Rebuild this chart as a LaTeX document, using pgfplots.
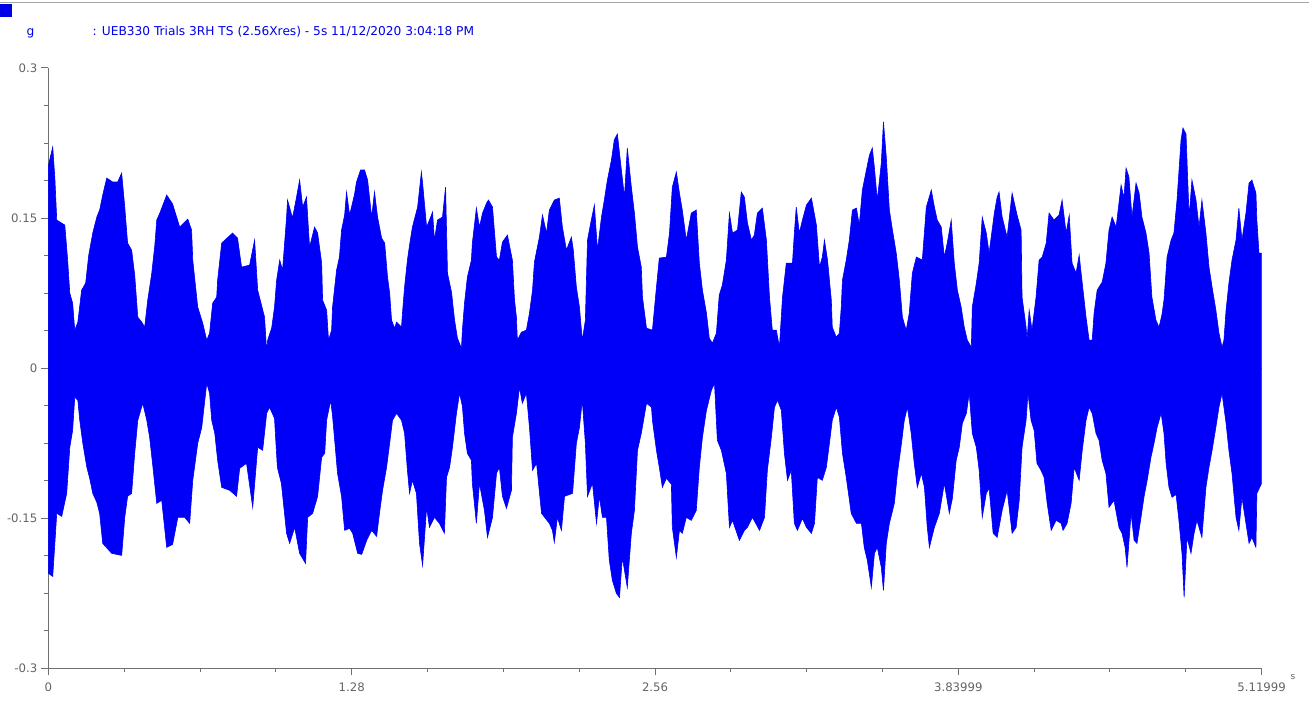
\documentclass[border=0pt]{standalone}
\usepackage{fontspec}
\setmainfont{DejaVu Sans}
\usepackage{pgfplots}
\pgfplotsset{compat=1.18}
\definecolor{sig}{RGB}{0,0,248}
\definecolor{ttl}{RGB}{0,0,230}
\definecolor{axgray}{RGB}{112,112,112}
\definecolor{lblgray}{RGB}{100,100,100}
\begin{document}
\begin{tikzpicture}
\begin{axis}[
  at={(0,0)}, anchor=south west,
  scale only axis, width=1214bp, height=601bp,
  xmin=0, xmax=5.11999, ymin=-0.3, ymax=0.3,
  axis x line*=bottom, axis y line*=left,
  xtick={0,1.28,2.56,3.83999,5.11999},
  xticklabels={0,1.28,2.56,3.83999,5.11999},
  minor xtick={0.32,0.64,0.96,1.6,1.92,2.24,2.88,3.2,3.52,4.16,4.48,4.8},
  ytick={-0.3,-0.15,0,0.15,0.3},
  yticklabels={-0.3,-0.15,0,0.15,0.3},
  minor ytick={-0.2625,-0.225,-0.1875,-0.1125,-0.075,-0.0375,0.0375,0.075,0.1125,0.1875,0.225,0.2625},
  tick align=outside,
  major tick length=7bp, minor tick length=4bp,
  tick style={axgray, line width=1bp},
  axis line style={axgray, line width=1bp},
  ticklabel style={font=\fontsize{11.7bp}{14bp}\selectfont, text=lblgray, inner sep=0pt},
  xticklabel style={anchor=north}, xticklabel shift=7bp,
  yticklabel style={anchor=east}, yticklabel shift=4bp,
]
\addplot[fill=sig, draw=sig, line width=0.6bp] coordinates {
(0,0.203)(0.018,0.221)(0.027,0.19)(0.035,0.148)(0.069,0.143)(0.081,0.108)(0.090,0.075)(0.102,0.065)(0.111,0.038)(0.124,0.046)(0.140,0.078)(0.157,0.085)(0.170,0.113)(0.187,0.135)(0.204,0.151)(0.216,0.158)(0.229,0.173)(0.246,0.19)(0.271,0.186)(0.292,0.186)(0.309,0.195)(0.322,0.161)(0.334,0.125)(0.351,0.118)(0.364,0.093)(0.377,0.051)(0.394,0.046)(0.406,0.041)(0.419,0.068)(0.436,0.095)(0.449,0.123)(0.457,0.148)(0.470,0.155)(0.499,0.173)(0.524,0.164)(0.554,0.141)(0.588,0.149)(0.604,0.138)(0.609,0.108)(0.630,0.061)(0.651,0.045)(0.668,0.028)(0.680,0.035)(0.693,0.065)(0.710,0.071)(0.714,0.088)(0.731,0.125)(0.777,0.135)(0.798,0.130)(0.815,0.101)(0.849,0.103)(0.870,0.128)(0.883,0.078)(0.912,0.051)(0.921,0.016)(0.925,0.028)(0.942,0.040)(0.954,0.061)(0.963,0.088)(0.976,0.108)(0.988,0.098)(1.005,0.151)(1.009,0.168)(1.030,0.150)(1.047,0.171)(1.060,0.188)(1.073,0.161)(1.089,0.171)(1.102,0.121)(1.123,0.141)(1.136,0.135)(1.153,0.105)(1.157,0.068)(1.174,0.058)(1.182,0.028)(1.195,0.038)(1.199,0.061)(1.216,0.098)(1.228,0.111)(1.237,0.138)(1.250,0.153)(1.258,0.176)(1.271,0.153)(1.292,0.174)(1.300,0.186)(1.317,0.198)(1.334,0.198)(1.347,0.188)(1.364,0.151)(1.376,0.176)(1.389,0.151)(1.406,0.130)(1.419,0.125)(1.431,0.091)(1.440,0.075)(1.448,0.048)(1.461,0.040)(1.469,0.046)(1.490,0.041)(1.494,0.055)(1.503,0.081)(1.515,0.108)(1.524,0.123)(1.536,0.141)(1.558,0.161)(1.574,0.196)(1.579,0.185)(1.596,0.141)(1.608,0.148)(1.621,0.156)(1.629,0.128)(1.642,0.148)(1.663,0.151)(1.676,0.181)(1.684,0.095)(1.701,0.076)(1.714,0.048)(1.726,0.030)(1.743,0.020)(1.747,0.038)(1.756,0.065)(1.768,0.091)(1.785,0.108)(1.789,0.125)(1.806,0.160)(1.819,0.141)(1.832,0.155)(1.849,0.165)(1.857,0.168)(1.874,0.161)(1.891,0.111)(1.903,0.108)(1.916,0.126)(1.937,0.133)(1.958,0.108)(1.967,0.068)(1.975,0.051)(1.979,0.028)(1.996,0.036)(2.017,0.038)(2.030,0.055)(2.043,0.078)(2.051,0.106)(2.072,0.131)(2.085,0.153)(2.102,0.135)(2.114,0.158)(2.135,0.168)(2.156,0.170)(2.169,0.141)(2.186,0.118)(2.207,0.131)(2.215,0.118)(2.228,0.081)(2.241,0.061)(2.253,0.028)(2.266,0.048)(2.275,0.128)(2.291,0.148)(2.304,0.163)(2.317,0.118)(2.334,0.151)(2.346,0.168)(2.359,0.188)(2.376,0.208)(2.388,0.228)(2.401,0.234)(2.418,0.198)(2.431,0.171)(2.443,0.220)(2.460,0.181)(2.473,0.155)(2.486,0.121)(2.502,0.101)(2.507,0.071)(2.524,0.040)(2.549,0.038)(2.566,0.081)(2.578,0.110)(2.608,0.111)(2.621,0.135)(2.633,0.181)(2.650,0.196)(2.663,0.175)(2.675,0.158)(2.692,0.128)(2.713,0.155)(2.734,0.158)(2.747,0.105)(2.760,0.078)(2.777,0.055)(2.789,0.030)(2.802,0.025)(2.819,0.035)(2.831,0.073)(2.844,0.083)(2.861,0.108)(2.874,0.155)(2.887,0.135)(2.908,0.138)(2.924,0.176)(2.937,0.171)(2.950,0.145)(2.967,0.128)(2.979,0.133)(2.992,0.155)(3.013,0.160)(3.030,0.128)(3.043,0.071)(3.055,0.038)(3.072,0.038)(3.085,0.021)(3.098,0.071)(3.114,0.105)(3.140,0.105)(3.148,0.135)(3.156,0.161)(3.169,0.135)(3.182,0.148)(3.199,0.163)(3.220,0.170)(3.241,0.143)(3.254,0.101)(3.266,0.111)(3.275,0.128)(3.288,0.108)(3.304,0.068)(3.308,0.041)(3.325,0.031)(3.338,0.035)(3.346,0.061)(3.351,0.088)(3.367,0.108)(3.380,0.128)(3.393,0.158)(3.410,0.160)(3.422,0.143)(3.435,0.178)(3.452,0.198)(3.465,0.213)(3.477,0.220)(3.486,0.200)(3.498,0.168)(3.515,0.205)(3.524,0.246)(3.536,0.211)(3.549,0.158)(3.562,0.138)(3.578,0.115)(3.591,0.088)(3.604,0.051)(3.620,0.038)(3.633,0.055)(3.646,0.095)(3.663,0.111)(3.688,0.108)(3.705,0.161)(3.726,0.178)(3.739,0.161)(3.751,0.148)(3.768,0.141)(3.781,0.111)(3.794,0.126)(3.810,0.148)(3.823,0.105)(3.836,0.078)(3.852,0.061)(3.865,0.041)(3.878,0.028)(3.895,0.021)(3.899,0.061)(3.916,0.085)(3.928,0.105)(3.941,0.151)(3.958,0.135)(3.970,0.115)(3.992,0.155)(4.004,0.171)(4.012,0.176)(4.025,0.151)(4.046,0.131)(4.067,0.175)(4.088,0.153)(4.105,0.138)(4.109,0.071)(4.126,0.041)(4.130,0.028)(4.139,0.058)(4.151,0.038)(4.168,0.071)(4.181,0.108)(4.194,0.111)(4.211,0.125)(4.223,0.155)(4.244,0.148)(4.265,0.153)(4.278,0.168)(4.295,0.135)(4.308,0.153)(4.320,0.105)(4.337,0.095)(4.350,0.113)(4.363,0.085)(4.379,0.051)(4.392,0.028)(4.405,0.028)(4.413,0.055)(4.426,0.078)(4.447,0.086)(4.463,0.105)(4.476,0.138)(4.489,0.151)(4.506,0.141)(4.518,0.165)(4.527,0.183)(4.539,0.170)(4.548,0.200)(4.560,0.191)(4.573,0.151)(4.590,0.185)(4.603,0.175)(4.615,0.151)(4.632,0.135)(4.645,0.115)(4.657,0.071)(4.674,0.048)(4.687,0.041)(4.699,0.053)(4.708,0.068)(4.721,0.111)(4.738,0.128)(4.750,0.135)(4.763,0.168)(4.780,0.228)(4.788,0.240)(4.801,0.234)(4.814,0.151)(4.826,0.188)(4.843,0.168)(4.856,0.141)(4.868,0.168)(4.885,0.135)(4.898,0.101)(4.911,0.081)(4.927,0.058)(4.940,0.035)(4.953,0.021)(4.961,0.028)(4.970,0.058)(4.982,0.085)(4.995,0.108)(5.012,0.128)(5.024,0.160)(5.037,0.128)(5.054,0.155)(5.067,0.185)(5.079,0.188)(5.096,0.175)(5.100,0.148)(5.109,0.115)(5.11999,0.115)
} \closedcycle;
\addplot[fill=sig, draw=sig, line width=0.6bp] coordinates {
(0,-0.205)(0.018,-0.208)(0.027,-0.175)(0.035,-0.145)(0.056,-0.148)(0.077,-0.125)(0.090,-0.079)(0.102,-0.062)(0.111,-0.029)(0.124,-0.032)(0.132,-0.052)(0.145,-0.075)(0.162,-0.099)(0.174,-0.110)(0.187,-0.125)(0.204,-0.134)(0.216,-0.145)(0.229,-0.175)(0.267,-0.185)(0.309,-0.187)(0.322,-0.149)(0.334,-0.128)(0.351,-0.125)(0.364,-0.085)(0.377,-0.052)(0.398,-0.035)(0.415,-0.052)(0.427,-0.069)(0.441,-0.099)(0.457,-0.135)(0.478,-0.132)(0.499,-0.179)(0.524,-0.176)(0.546,-0.149)(0.575,-0.149)(0.596,-0.155)(0.609,-0.112)(0.630,-0.075)(0.647,-0.059)(0.668,-0.015)(0.680,-0.025)(0.689,-0.052)(0.702,-0.065)(0.714,-0.092)(0.731,-0.119)(0.765,-0.122)(0.794,-0.128)(0.807,-0.100)(0.836,-0.095)(0.862,-0.139)(0.883,-0.079)(0.904,-0.082)(0.921,-0.045)(0.933,-0.039)(0.954,-0.050)(0.966,-0.099)(0.983,-0.115)(1.005,-0.165)(1.018,-0.175)(1.039,-0.159)(1.060,-0.185)(1.085,-0.195)(1.094,-0.149)(1.115,-0.145)(1.136,-0.128)(1.153,-0.089)(1.166,-0.085)(1.174,-0.052)(1.191,-0.032)(1.199,-0.048)(1.208,-0.072)(1.220,-0.105)(1.237,-0.128)(1.250,-0.162)(1.271,-0.160)(1.284,-0.165)(1.305,-0.185)(1.322,-0.186)(1.343,-0.172)(1.364,-0.162)(1.385,-0.168)(1.397,-0.145)(1.410,-0.122)(1.427,-0.099)(1.440,-0.075)(1.452,-0.052)(1.469,-0.045)(1.490,-0.052)(1.503,-0.065)(1.515,-0.102)(1.524,-0.125)(1.536,-0.112)(1.553,-0.125)(1.566,-0.175)(1.579,-0.197)(1.596,-0.139)(1.608,-0.159)(1.629,-0.149)(1.650,-0.155)(1.671,-0.165)(1.680,-0.109)(1.693,-0.099)(1.705,-0.079)(1.722,-0.045)(1.735,-0.025)(1.747,-0.038)(1.756,-0.065)(1.768,-0.085)(1.785,-0.092)(1.789,-0.115)(1.806,-0.155)(1.819,-0.115)(1.840,-0.142)(1.853,-0.169)(1.874,-0.149)(1.891,-0.105)(1.903,-0.099)(1.916,-0.128)(1.933,-0.140)(1.954,-0.122)(1.958,-0.069)(1.975,-0.045)(1.988,-0.019)(2.000,-0.035)(2.017,-0.025)(2.030,-0.059)(2.043,-0.102)(2.060,-0.095)(2.081,-0.145)(2.114,-0.155)(2.127,-0.162)(2.135,-0.174)(2.148,-0.149)(2.165,-0.162)(2.178,-0.128)(2.212,-0.125)(2.228,-0.075)(2.241,-0.059)(2.253,-0.032)(2.266,-0.075)(2.275,-0.128)(2.296,-0.115)(2.313,-0.155)(2.325,-0.128)(2.338,-0.149)(2.355,-0.149)(2.367,-0.192)(2.380,-0.212)(2.397,-0.225)(2.410,-0.229)(2.422,-0.189)(2.443,-0.219)(2.460,-0.165)(2.473,-0.142)(2.486,-0.082)(2.502,-0.065)(2.524,-0.035)(2.545,-0.039)(2.549,-0.052)(2.566,-0.082)(2.578,-0.099)(2.591,-0.119)(2.608,-0.110)(2.629,-0.116)(2.633,-0.159)(2.650,-0.189)(2.663,-0.162)(2.675,-0.165)(2.692,-0.149)(2.713,-0.152)(2.734,-0.142)(2.747,-0.099)(2.760,-0.069)(2.777,-0.042)(2.798,-0.022)(2.811,-0.015)(2.823,-0.072)(2.840,-0.082)(2.861,-0.105)(2.874,-0.159)(2.887,-0.152)(2.916,-0.172)(2.937,-0.162)(2.950,-0.159)(2.971,-0.149)(3.001,-0.162)(3.022,-0.149)(3.034,-0.102)(3.051,-0.069)(3.064,-0.039)(3.077,-0.032)(3.093,-0.042)(3.106,-0.085)(3.119,-0.112)(3.135,-0.102)(3.148,-0.155)(3.161,-0.162)(3.182,-0.150)(3.199,-0.159)(3.220,-0.165)(3.233,-0.155)(3.245,-0.109)(3.266,-0.112)(3.283,-0.099)(3.296,-0.075)(3.308,-0.052)(3.325,-0.039)(3.338,-0.049)(3.351,-0.085)(3.367,-0.109)(3.388,-0.145)(3.410,-0.155)(3.431,-0.155)(3.443,-0.179)(3.456,-0.192)(3.473,-0.219)(3.486,-0.185)(3.498,-0.179)(3.515,-0.199)(3.524,-0.222)(3.536,-0.175)(3.549,-0.155)(3.570,-0.135)(3.583,-0.105)(3.600,-0.075)(3.612,-0.052)(3.625,-0.039)(3.641,-0.065)(3.654,-0.095)(3.667,-0.119)(3.684,-0.105)(3.697,-0.119)(3.709,-0.159)(3.718,-0.179)(3.739,-0.159)(3.760,-0.145)(3.781,-0.115)(3.802,-0.145)(3.815,-0.130)(3.831,-0.092)(3.844,-0.079)(3.857,-0.055)(3.874,-0.045)(3.886,-0.025)(3.899,-0.065)(3.916,-0.079)(3.928,-0.102)(3.941,-0.149)(3.958,-0.125)(3.970,-0.120)(3.987,-0.165)(4.004,-0.169)(4.025,-0.142)(4.046,-0.122)(4.067,-0.165)(4.084,-0.159)(4.097,-0.132)(4.109,-0.079)(4.126,-0.052)(4.134,-0.025)(4.147,-0.052)(4.160,-0.062)(4.172,-0.095)(4.189,-0.102)(4.202,-0.109)(4.215,-0.135)(4.232,-0.162)(4.253,-0.152)(4.274,-0.155)(4.282,-0.162)(4.299,-0.155)(4.316,-0.135)(4.329,-0.099)(4.350,-0.112)(4.363,-0.082)(4.379,-0.052)(4.392,-0.039)(4.405,-0.045)(4.421,-0.065)(4.434,-0.072)(4.447,-0.092)(4.463,-0.105)(4.476,-0.139)(4.497,-0.132)(4.518,-0.159)(4.531,-0.165)(4.544,-0.179)(4.552,-0.199)(4.569,-0.145)(4.582,-0.172)(4.594,-0.175)(4.611,-0.149)(4.624,-0.128)(4.637,-0.112)(4.653,-0.089)(4.666,-0.075)(4.679,-0.059)(4.696,-0.045)(4.708,-0.065)(4.717,-0.095)(4.729,-0.119)(4.742,-0.129)(4.759,-0.126)(4.771,-0.152)(4.784,-0.185)(4.793,-0.229)(4.805,-0.169)(4.822,-0.185)(4.835,-0.165)(4.847,-0.152)(4.868,-0.169)(4.885,-0.119)(4.898,-0.099)(4.911,-0.082)(4.927,-0.059)(4.940,-0.039)(4.953,-0.025)(4.970,-0.055)(4.982,-0.082)(4.995,-0.105)(5.012,-0.149)(5.024,-0.162)(5.037,-0.129)(5.054,-0.155)(5.067,-0.175)(5.079,-0.169)(5.096,-0.179)(5.100,-0.125)(5.11999,-0.115)
} \closedcycle;
\end{axis}
\begin{scope}[x=1bp,y=1bp]
\draw[color=black!35, line width=1bp] (-48,666.5) -- (1261,666.5);
\fill[ttl] (-48,652) rectangle (-36,665);
\node[anchor=base west, font=\fontsize{12.2bp}{14bp}\selectfont, text=ttl, inner sep=0pt] at (-22,633.5) {g};
\node[anchor=base west, font=\fontsize{12.2bp}{14bp}\selectfont, text=ttl, inner sep=0pt] at (44,633.5) {: UEB330 Trials 3RH TS (2.56Xres) - 5s 11/12/2020 3:04:18 PM};
\node[anchor=base west, font=\fontsize{9bp}{10bp}\selectfont, text=lblgray, inner sep=0pt] at (1243,-11) {s};
\path[use as bounding box] (-48,-37) rectangle (1261,669);
\end{scope}
\end{tikzpicture}
\end{document}
